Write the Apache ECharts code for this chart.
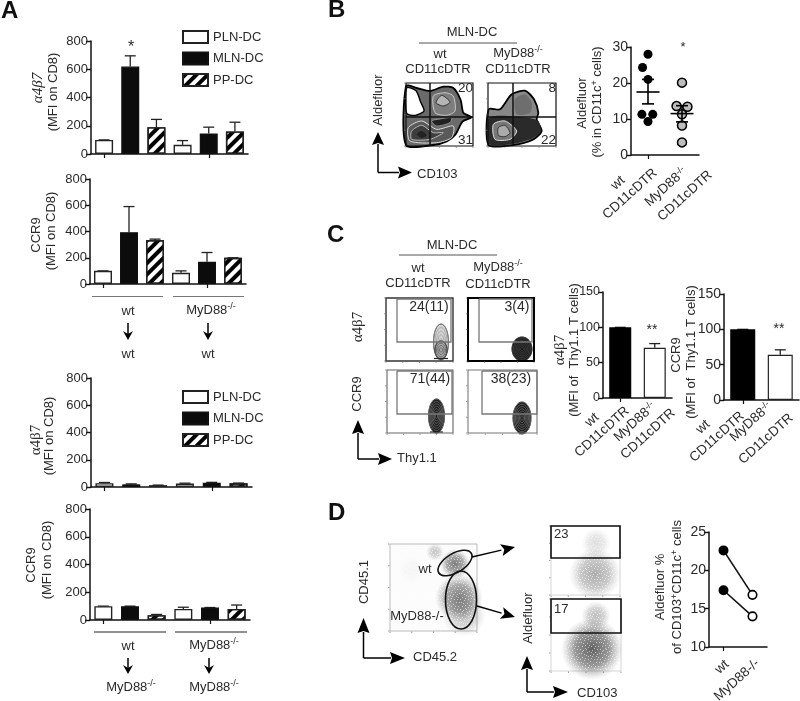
<!DOCTYPE html>
<html><head><meta charset="utf-8">
<style>html,body{margin:0;padding:0;background:#fff}#c{width:800px;height:701px}</style>
<script src="https://cdn.jsdelivr.net/npm/echarts@6/dist/echarts.min.js"></script>
</head><body><div id="c"></div>
<script>
// ---------- data ----------
const dcNames = ['PLN-DC','MLN-DC','PP-DC'];
const a1Means = [100,620,190,65,145,160];
const a1Tops  = [100,695,245,95,190,225];
const a2Means = [100,395,335,85,170,200];
const a2Tops  = [100,590,342,100,240,200];
const a3Means = [28,20,12,25,32,27];
const a3Tops  = [33,23,14,28,34,29];
const a4Means = [100,100,35,80,90,80];
const a4Tops  = [100,100,40,92,90,108];
const sixCats = ['wt PLN','wt MLN','wt PP','MyD88 PLN','MyD88 MLN','MyD88 PP'];
const dtrGroups = ['wt CD11cDTR','MyD88-/- CD11cDTR'];
const bWtX = [0.5,0.34,0.5,0.32,0.64,0.5];
const bWtY = [28,24.3,21,11.3,11.3,9.3];
const bKoX = [1.5,1.34,1.66,1.5,1.5,1.5];
const bKoY = [20.1,13.6,13.4,11.3,8.2,3.5];
const bStats = [[0.5,17.5,14.2,21],[1.5,11.5,9.2,13.7]];
const c1Values = [100,71];
const c1Tops = [100,77];
const c2Values = [100,64];
const c2Tops = [100,71];
const dGroups = ['wt','MyD88-/-'];
const dPairA = [22.6,16.8];
const dPairB = [17.4,14];

// ---------- style helpers ----------
const FF = '"Liberation Sans",Arial,sans-serif';
const TXT = '#2a2a2a', LINE = '#111';
const hatch = {symbol:'rect',symbolSize:1,dashArrayX:[1,0],dashArrayY:[4,4],rotation:-Math.PI/4,color:'#000'};
const dcStyle = [
  {color:'#fff',borderColor:'#222',borderWidth:1.4},
  {color:'#0c0c0c',borderColor:'#111',borderWidth:1.4},
  {color:'#fff',borderColor:'#222',borderWidth:1.4,decal:hatch}
];
function rect(x,y,w,h,st){return {type:'rect',shape:{x,y,width:w,height:h},style:Object.assign({fill:'none',stroke:'#111',lineWidth:1},st||{}),silent:true};}
function seg(x1,y1,x2,y2,c,w){return {type:'line',shape:{x1,y1,x2,y2},style:{stroke:c||'#111',lineWidth:w||1.2},silent:true};}
function text(t,x,y,o){o=o||{};const sz=o.size||13;
  return {type:'text',x,y,rotation:o.rot?o.rot*Math.PI/180:0,silent:true,z:10,
    style:{text:t,fontFamily:o.font||FF,fontSize:sz,fontWeight:o.weight||'normal',fill:o.fill||TXT,
      align:o.align||'center',verticalAlign:'middle',rich:{
        s:{fontSize:9,verticalAlign:'top',fill:TXT,fontFamily:FF,lineHeight:14},
        n:{fontSize:sz,fill:TXT,fontFamily:FF,lineHeight:15},
        a:{fontSize:sz,fill:TXT,fontFamily:FF},
        g:{fontSize:15,fill:TXT,fontFamily:'"Liberation Serif",serif',lineHeight:15},
        i:{fontSize:15,fontStyle:'italic',fill:TXT,fontFamily:'"Liberation Serif",serif',lineHeight:15}}}};}
function arrowV(x,y0,y1,hw,hl){return [seg(x,y0,x,y1+hl-1,'#000',1.5),{type:'polygon',silent:true,shape:{points:[[x,y1],[x-hw,y1+hl],[x,y1+hl-2],[x+hw,y1+hl]]},style:{fill:'#000'}}];}
function arrowDown(x,y0,y1){return [seg(x,y0,x,y1-5,'#000',1.5),{type:'polygon',silent:true,shape:{points:[[x,y1],[x-5,y1-9],[x,y1-6],[x+5,y1-9]]},style:{fill:'#000'}}];}
function arrowH(x0,y,x1,hw,hl){return [seg(x0,y,x1-hl+1,y,'#000',1.5),{type:'polygon',silent:true,shape:{points:[[x1,y],[x1-hl,y-hw],[x1-hl+2,y],[x1-hl,y+hw]]},style:{fill:'#000'}}];}
function arrowAny(x0,y0,x1,y1){const a=Math.atan2(y1-y0,x1-x0),L=14,W=6,c=Math.cos(a),s=Math.sin(a);
  const bx=x1-L*c,by=y1-L*s;
  return [seg(x0,y0,bx,by,'#000',1.4),{type:'polygon',silent:true,shape:{points:[[x1,y1],[bx-W*s,by+W*c],[x1-11*c,y1-11*s],[bx+W*s,by-W*c]]},style:{fill:'#000'}}];}
function poly(pts,ox,oy,st,smooth){return {type:'polygon',silent:true,shape:{points:pts.map(p=>[ox+p[0]/3,oy+p[1]/3]),smooth:smooth===undefined?0.25:smooth},style:st};}
function ell(cx,cy,rx,ry,st,rot){return {type:'ellipse',silent:true,x:cx,y:cy,rotation:(rot||0)*Math.PI/180,shape:{cx:0,cy:0,rx,ry},style:st};}
function density(cx,cy,rx,ry,a,rot){return ell(cx,cy,rx,ry,{fill:new echarts.graphic.RadialGradient(0.5,0.5,0.5,[
   {offset:0,color:'rgba(70,70,70,'+a+')'},{offset:0.55,color:'rgba(95,95,95,'+(a*0.75)+')'},{offset:0.8,color:'rgba(130,130,130,'+(a*0.35)+')'},{offset:1,color:'rgba(160,160,160,0)'}])},rot);}
function plotTicks(x0,y0,x1,y1){const out=[];
  for(let i=0;i<5;i++){const t=i/4;
    out.push(seg(x0-2,y1-t*(y1-y0),x0-0.5,y1-t*(y1-y0),'#777',0.7));
    out.push(seg(x0+t*(x1-x0),y1+0.5,x0+t*(x1-x0),y1+2,'#777',0.7));}
  return out;}
function contour(cx,cy,rx,ry,n,c,fill){const out=[];
  if(fill) out.push(ell(cx,cy,rx,ry,{fill,stroke:'#111',lineWidth:0.8}));
  for(let i=0;i<n;i++){const k=1-i/n; out.push(ell(cx,cy,rx*k,ry*k,{fill:'none',stroke:c,lineWidth:0.7}));}
  return out;}
// grain texture laid over the dot-plot shading
const grainDots=[[1,2],[4,0],[7,3],[10,1],[13,4],[16,2],[18,6],[2,6],[5,5],[8,7],[11,6],[14,8],[17,9],[0,9],[3,10],[6,9],[9,11],[12,10],[15,12],[19,13],[1,13],[4,14],[7,12],[10,15],[13,14],[16,16],[18,17],[2,17],[5,18],[8,16],[11,18],[14,19],[17,19],[0,19],[6,15],[12,16],[3,3],[9,5],[15,6],[19,2],[5,8],[11,12],[17,14],[2,11],[8,19]];
const grainCanvas=document.createElement('canvas');grainCanvas.width=grainCanvas.height=20;
(function(){const x=grainCanvas.getContext('2d');x.fillStyle='rgba(255,255,255,0.55)';grainDots.forEach(d=>x.fillRect(d[0],d[1],1,1));})();

// ---------- charts ----------
const grids=[], xAxes=[], yAxes=[], series=[];
function axisY(i,min,max,step,size){return {gridIndex:i,type:'value',min,max,interval:step,splitLine:{show:false},
  axisLine:{show:true,onZero:false,lineStyle:{color:LINE,width:1.5}},axisTick:{show:true,length:5,lineStyle:{color:LINE,width:1.4}},
  axisLabel:{fontFamily:FF,fontSize:size||13,color:TXT,margin:3}};}
function axisCat(i,cats){return {gridIndex:i,type:'category',data:cats,boundaryGap:true,
  axisLine:{show:true,onZero:false,lineStyle:{color:LINE,width:1.5}},axisTick:{show:true,alignWithLabel:true,length:4,lineStyle:{color:LINE,width:1.2}},
  axisLabel:{show:false}};}
function errSeries(xi,yi,means,tops,cap){return {type:'custom',xAxisIndex:xi,yAxisIndex:yi,z:1,clip:false,silent:true,
  data:means.map((m,j)=>[j,m,tops[j]]),encode:{x:0,y:1},
  renderItem(p,api){const a=api.coord([api.value(0),api.value(1)]),b=api.coord([api.value(0),api.value(2)]);
    const st={stroke:'#222',lineWidth:1.3};
    return {type:'group',children:[{type:'line',shape:{x1:a[0],y1:a[1],x2:b[0],y2:b[1]},style:st},
      {type:'line',shape:{x1:b[0]-cap,y1:b[1],x2:b[0]+cap,y2:b[1]},style:st}]};}};}

const aPanels=[
 {l:91,t:41,w:157,h:113,m:a1Means,e:a1Tops},
 {l:90,t:179,w:156,h:105,m:a2Means,e:a2Tops},
 {l:91,t:378,w:161,h:109,m:a3Means,e:a3Tops},
 {l:90,t:509,w:160,h:111,m:a4Means,e:a4Tops}];
aPanels.forEach((p,i)=>{
  grids.push({left:p.l,top:p.t,width:p.w,height:p.h});
  xAxes.push(axisCat(i,sixCats)); yAxes.push(axisY(i,0,800,200));
  series.push(errSeries(i,i,p.m,p.e,5.5));
  dcNames.forEach((n,k)=>series.push({type:'bar',name:n,xAxisIndex:i,yAxisIndex:i,stack:'s'+i,barWidth:18,z:2,silent:true,
    itemStyle:dcStyle[k],data:p.m.map((v,j)=>j%3===k?v:'-')}));
});
// B scatter (grid 4)
grids.push({left:631,top:47,width:68,height:108});
xAxes.push(axisCat(4,dtrGroups));
xAxes.push({gridIndex:4,type:'value',min:0,max:2,show:false});
yAxes.push(axisY(4,0,30,10,14));
series.push({type:'scatter',name:'wt',xAxisIndex:5,yAxisIndex:4,symbolSize:9,itemStyle:{color:'#000',opacity:1},silent:true,data:bWtX.map((x,i)=>[x,bWtY[i]])});
series.push({type:'scatter',name:'MyD88-/-',xAxisIndex:5,yAxisIndex:4,symbolSize:9,itemStyle:{color:'#bdbdbd',borderColor:'#000',borderWidth:1.5,opacity:1},silent:true,data:bKoX.map((x,i)=>[x,bKoY[i]])});
series.push({type:'custom',xAxisIndex:5,yAxisIndex:4,z:5,silent:true,data:bStats,encode:{x:0,y:1},clip:false,
  renderItem(p,api){const x=api.value(0),c=api.coord([x,api.value(1)]),lo=api.coord([x,api.value(2)]),hi=api.coord([x,api.value(3)]);
    const st={stroke:'#000',lineWidth:1.6};const L=(x1,y1,x2,y2)=>({type:'line',shape:{x1,y1,x2,y2},style:st});
    return {type:'group',children:[L(c[0]-11.5,c[1],c[0]+11.5,c[1]),L(c[0],lo[1],c[0],hi[1]),L(c[0]-6,lo[1],c[0]+6,lo[1]),L(c[0]-6,hi[1],c[0]+6,hi[1])]};}});
// C bars (grids 5,6)
const cPanels=[{l:603,t:292,w:69,h:106,v:c1Values,e:c1Tops,bw:22,size:12.5},{l:724,t:294,w:75,h:106,v:c2Values,e:c2Tops,bw:25,size:14}];
cPanels.forEach((p,k)=>{
  const gi=5+k, xi=6+k, yi=5+k;
  grids.push({left:p.l,top:p.t,width:p.w,height:p.h});
  xAxes.push(axisCat(gi,dtrGroups));
  yAxes.push(axisY(gi,0,150,50,p.size));
  series.push(errSeries(xi,yi,p.v,p.e,5.5));
  series.push({type:'bar',xAxisIndex:xi,yAxisIndex:yi,barWidth:p.bw,z:2,silent:true,
    data:p.v.map((v,j)=>({value:v,itemStyle:j===0?{color:'#000',borderColor:'#000',borderWidth:1.2}:{color:'#fff',borderColor:'#222',borderWidth:1.2}}))});
});
// D pairs (grid 7)
grids.push({left:709,top:532,width:58,height:115});
xAxes.push(axisCat(7,dGroups));
yAxes.push(axisY(7,10,25,5,14));
[dPairA,dPairB].forEach((arr,k)=>series.push({type:'line',name:'pair'+(k+1),xAxisIndex:8,yAxisIndex:7,symbol:'circle',symbolSize:8.5,silent:true,
  lineStyle:{color:'#111',width:1.6},
  data:arr.map((v,j)=>({value:v,itemStyle:j===0?{color:'#000',borderColor:'#000',borderWidth:1.5}:{color:'#fff',borderColor:'#000',borderWidth:1.6}}))}));

// ---------- annotations ----------
const g=[];
const add=a=>{Array.isArray(a)?g.push(...a):g.push(a);};
const MY='{n|MyD88}{s|-/-}';
[['A',1,11],['B',328,10],['C',327,235],['D',328,513]].forEach(l=>add(text(l[0],l[1],l[2],{size:24,weight:'bold',align:'left',fill:'#111'})));
const ga='{g|α4β7}';
[[38,88,'{i|α4β7}'],[53,92,'(MFI on CD8)'],[36,235,'CCR9'],[51,231,'(MFI on CD8)'],[36,440,ga],[49,436,'(MFI on CD8)'],[31,565,'CCR9'],[47,560,'(MFI on CD8)']]
  .forEach(t=>add(text(t[2],t[0],t[1],{rot:90})));
add(text('*',131,48,{size:16}));
add(seg(92,296.5,163,296.5,'#777',1.2)); add(seg(173,296.5,244,296.5,'#777',1.2));
add(text('wt',128,311)); add(text(MY,211,310));
add(arrowDown(128,323,340)); add(arrowDown(208,323,340));
add(text('wt',128,354)); add(text('wt',208,354));
add(seg(94,632,166,632,'#222',1)); add(seg(175,632,247,632,'#222',1));
add(text('wt',128,646)); add(text(MY,214,645));
add(arrowDown(128,658,674)); add(arrowDown(209,658,674));
add(text(MY,131,687)); add(text(MY,214,687));

// rotated category labels under the B, C and D axes
[ [['wt',618,183],['CD11cDTR',630,194],[MY,666,187],['CD11cDTR',685,196]],
  [['wt',592,420],['CD11cDTR',602,432],[MY,635,422],['CD11cDTR',648,434]],
  [['wt',703,427],['CD11cDTR',717,437],[MY,751,422],['CD11cDTR',766,439]],
  [['wt',722,667],['MyD88-/-',737,680]]
].forEach(set=>set.forEach(t=>add(text(t[0],t[1],t[2],{rot:42,size:13.5}))));

// panel B header
add(text('MLN-DC',472,32)); add(seg(419,43,517,43,'#555',1.2));
add(text('wt',440,54)); add(text('CD11cDTR',438,69));
add(text(MY,518,53)); add(text('CD11cDTR',518,69));
// B contour left
const BO=[400,76];
add(poly([[18,30],[50,36],[90,45],[130,32],[160,36],[182,72],[190,110],[214,124],[188,136],[166,176],[140,196],[100,207],[18,207]],BO[0],BO[1],{fill:'#6a6a6a',stroke:'#000',lineWidth:1.8}));
add(poly([[20,36],[48,44],[62,78],[72,105],[46,118],[20,112]],BO[0],BO[1],{fill:'#fff',stroke:'#000',lineWidth:1.4}));
add(poly([[100,60],[135,50],[160,60],[165,105],[140,118],[105,110]],BO[0],BO[1],{fill:'#7d7d7d',stroke:'#ddd',lineWidth:0.8}));
add(poly([[108,80],[125,58],[150,78],[130,90]],BO[0],BO[1],{fill:'#b5b5b5',stroke:'#222',lineWidth:0.9}));
add(poly([[25,155],[65,135],[110,160],[160,150],[155,185],[110,200],[30,195]],BO[0],BO[1],{fill:'#5a5a5a',stroke:'#e0e0e0',lineWidth:1}));
add(poly([[35,165],[65,148],[100,170],[130,170],[90,190],[35,190]],BO[0],BO[1],{fill:'#3e3e3e',stroke:'#bbb',lineWidth:1}));
add(poly([[50,175],[65,165],[80,178],[65,186]],BO[0],BO[1],{fill:'#222'}));
add(poly([[95,135],[125,128],[155,125],[150,140],[110,150]],BO[0],BO[1],{fill:'#222',stroke:'#aaa',lineWidth:0.7}));
// B contour right
add(poly([[266,100],[300,100],[335,55],[375,44],[402,70],[415,110],[410,130],[425,165],[400,190],[340,207],[266,207]],BO[0],BO[1],{fill:'#888',stroke:'#000',lineWidth:1.8}));
add(poly([[345,70],[375,55],[395,80],[390,110],[350,115]],BO[0],BO[1],{fill:'#6e6e6e'}));
add(poly([[268,125],[380,125],[415,135],[422,168],[395,188],[335,204],[268,204]],BO[0],BO[1],{fill:'#2a2a2a'}));
add(poly([[280,145],[315,135],[350,165],[330,190],[285,190]],BO[0],BO[1],{fill:'#777',stroke:'#eee',lineWidth:0.9}));
add(poly([[295,155],[315,148],[330,170],[315,182],[295,178]],BO[0],BO[1],{fill:'#aaa',stroke:'#222',lineWidth:0.8}));
[[406,473,430],[488,556,513]].forEach(b=>{
  add(rect(b[0],83,b[1]-b[0],63,{stroke:'#111',lineWidth:1.2}));
  add(seg(b[2],83,b[2],146,'#111',1.5)); add(seg(b[0],117,b[1],117,'#111',1.5));
  add(plotTicks(b[0],83,b[1],146));
});
add(text('20',473,88,{size:13.5,align:'right'}));
add(text('31',473,140,{size:13.5,align:'right'}));
add(text('8',556,88,{size:13.5,align:'right'}));
add(text('22',556,140,{size:13.5,align:'right'}));
add(text('Aldefluor',378,100,{rot:90}));
add(arrowV(378,172.5,132,6,13)); add(arrowH(378,172.5,412,6,14));
add(text('CD103',417,174,{align:'left'}));
add(text('Aldefluor',582,103,{rot:90}));
add(text('(% in CD11c{s|+} cells)',597,102,{rot:90}));
add(text('*',683,47,{size:13}));

// panel C header
add(text('MLN-DC',452,245)); add(seg(399,255,497,255,'#555',1.2));
add(text('wt',418,268)); add(text('CD11cDTR',418,283));
add(text(MY,498,267)); add(text('CD11cDTR',498,284));
// C flows
add(contour(441,342,7.5,18,5,'#999','#d4d4d4')); add(contour(441,350,6,9,4,'#555','#aaa'));
add(seg(434,358.5,448,358.5,'#222',1.2));
add(contour(522,349,10,12,7,'#444','#1c1c1c'));
add(contour(436.5,416,8,17,7,'#777','#1c1c1c')); add(seg(430,432,443,432,'#222',1.2));
add(contour(522,418,9,16,7,'#777','#1c1c1c'));
[[386,298,67,63,'#333',1.4],[468,298,66,63,'#000',2],[387,370,66,63,'#666',1.1],[468,370,69,63,'#777',1.1]].forEach(b=>{
  add(rect(b[0],b[1],b[2],b[3],{stroke:b[4],lineWidth:b[5]})); add(plotTicks(b[0],b[1],b[0]+b[2],b[1]+b[3]));
});
[[397,451,299,342,'#777'],[479,532,299,342,'#777'],[397,452,371,414,'#777'],[482,537,371,414,'#777']].forEach(b=>{
  add({type:'polyline',silent:true,shape:{points:[[b[0],b[2]],[b[1],b[2]],[b[1],b[3]],[b[0],b[3]],[b[0],b[2]]]},style:{fill:'none',stroke:b[4],lineWidth:1.3}});
});
add(text('24(11)',429,307,{size:14})); add(text('3(4)',517,307,{size:14}));
add(text('71(44)',430,379,{size:14})); add(text('38(23)',511,379,{size:14}));
add(text(ga,358,327,{rot:90})); add(text('CCR9',357,394,{rot:90}));
add(arrowV(358,459,420,6,14)); add(arrowH(358,459,392,6,14));
add(text('Thy1.1',397,458,{align:'left'}));
add(text(ga,560,350,{rot:90}));
add(text('(MFI of  Thy1.1 T cells)',574,350,{rot:90}));
add(text('CCR9',676,355,{rot:90}));
add(text('(MFI of  Thy1.1 T cells)',691,352,{rot:90}));
add(text('**',652,330,{size:14})); add(text('**',779,329,{size:14}));

// panel D flows
add(rect(390,544,87,87,{stroke:'#aaa',lineWidth:0.8,fill:'#fcfcfc'})); add(plotTicks(390,544,477,631));
add(density(435,552,26,9,0.3));
add(density(412,570,18,14,0.04));
add(density(455,564,27,15,0.7,30));
add(density(459,598,24,38,0.7,0));
add(density(464,615,22,24,0.3));
add(rect(391,545,85,85,{stroke:'none',fill:{image:grainCanvas,repeat:'repeat'}}));
add(ell(455,563,19,9.5,{fill:'none',stroke:'#111',lineWidth:1.6},31));
add(ell(461,600,15.5,29,{fill:'none',stroke:'#111',lineWidth:1.6},0));
add(text('wt',425,569)); add(text('MyD88-/-',417,616));
add(arrowAny(472,557,515,547)); add(arrowAny(477,606,515,617));
add(text('CD45.1',364,582,{rot:90}));
add(arrowV(363.5,658,618,6,15)); add(arrowH(363.5,658,405,6,15));
add(text('CD45.2',413,657,{align:'left'}));
add(rect(551,526,69,69,{stroke:'#ccc',lineWidth:0.8})); add(plotTicks(551,526,620,595));
add(rect(551,599,70,72,{stroke:'#ccc',lineWidth:0.8})); add(plotTicks(551,599,621,671));
add(density(595,574,32,26,0.45)); add(density(596,543,15,24,0.18));
add(density(592,649,36,31,0.85)); add(density(596,616,15,24,0.35));
add(rect(552,527,67,67,{stroke:'none',fill:{image:grainCanvas,repeat:'repeat'}}));
add(rect(552,600,68,70,{stroke:'none',fill:{image:grainCanvas,repeat:'repeat'}}));
add(rect(551,526,69,32,{stroke:'#111',lineWidth:1.6})); add(rect(551,599,70,34,{stroke:'#111',lineWidth:1.6}));
add(text('23',554,534,{align:'left'})); add(text('17',554,609,{align:'left'}));
add(text('Aldefluor',528,618,{rot:90}));
add(arrowV(527,692,656,6,14)); add(arrowH(527,692,568,6,15));
add(text('CD103',577,693,{align:'left'}));
add(text('Aldefluor %',660,587,{rot:90}));
add(text('of CD103{s|+}CD11c{s|+} cells',677,587,{rot:90}));

const legendBase={orient:'vertical',left:182,icon:'rect',itemWidth:25,itemHeight:12,itemGap:7.5,selectedMode:false,
  textStyle:{fontFamily:FF,fontSize:13,color:TXT},data:dcNames,padding:0};
const chart=echarts.init(document.getElementById('c'),null,{renderer:'canvas',width:800,height:701});
chart.setOption({animation:false,backgroundColor:'#fff',
  legend:[Object.assign({},legendBase,{top:30}),Object.assign({},legendBase,{top:390})],
  grid:grids,xAxis:xAxes,yAxis:yAxes,series,graphic:{elements:g}});
</script></body></html>
